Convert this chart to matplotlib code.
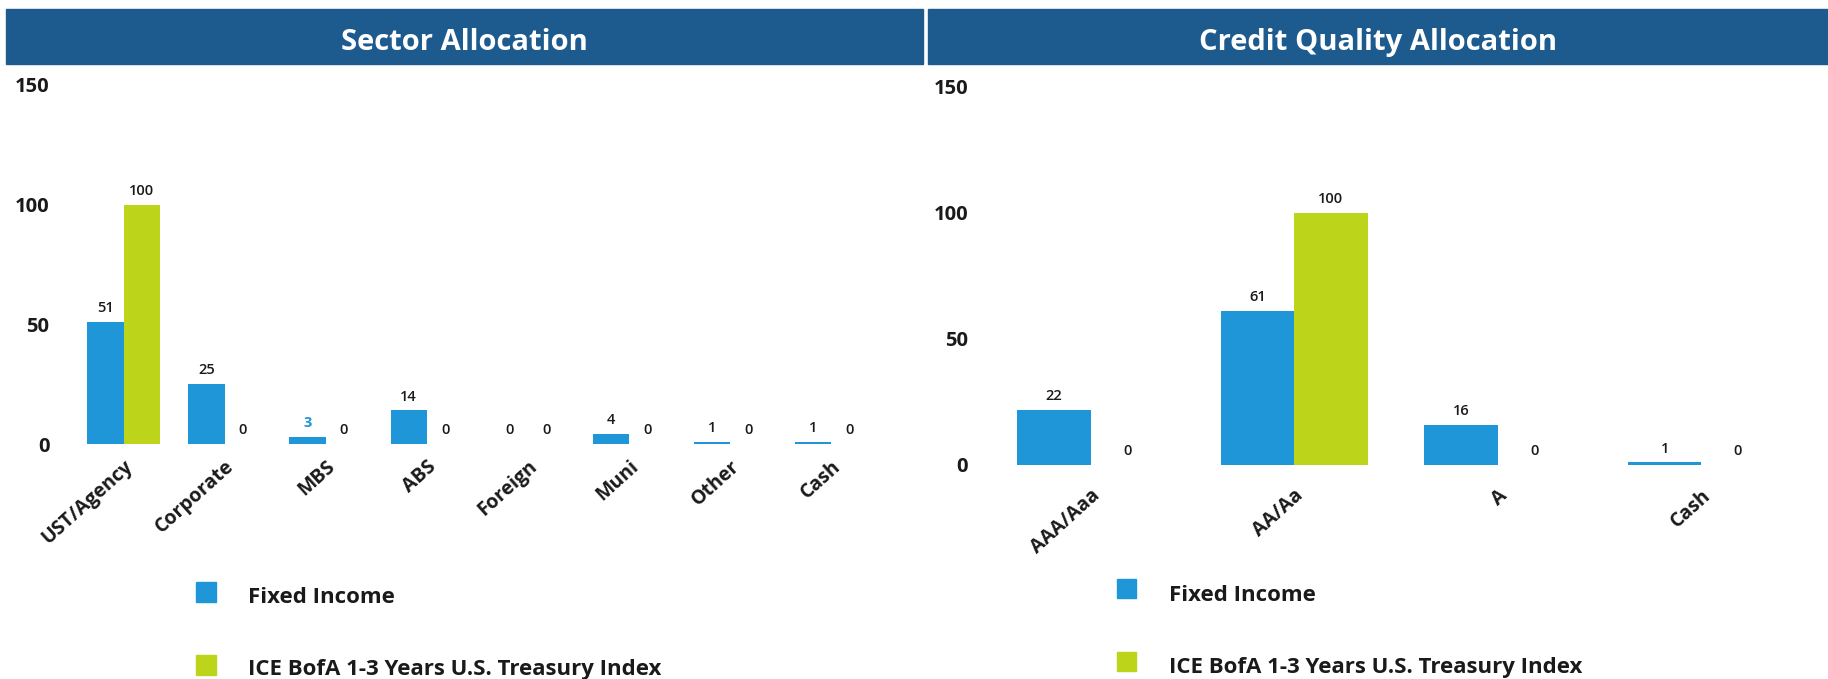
import matplotlib
matplotlib.use("Agg")
import matplotlib.pyplot as plt
from matplotlib.patches import Rectangle
import numpy as np

# Sector allocation data
sector_cats = ["UST/Agency", "Corporate", "MBS", "ABS", "Foreign", "Muni", "Other", "Cash"]
sector_fund = [51, 25, 3, 14, 0, 4, 1, 1]
sector_index = [100, 0, 0, 0, 0, 0, 0, 0]

# Credit quality allocation data
quality_cats = ["AAA/Aaa", "AA/Aa", "A", "Cash"]
quality_fund = [22, 61, 16, 1]
quality_index = [0, 100, 0, 0]

y_ticks = [0, 50, 100, 150]
series_names = ["Fixed Income", "ICE BofA 1-3 Years U.S. Treasury Index"]

BLUE = "#1e96d8"
GREEN = "#bcd41a"
HEADER = "#1d5b8e"
TEXT = "#1a1a1a"
FONT = ["Open Sans", "DejaVu Sans"]

plt.rcParams["font.family"] = FONT

W, H = 1828, 679
fig = plt.figure(figsize=(W / 100, H / 100), dpi=100)


def px_box(x0, y0, x1, y1):
    """Convert a pixel box (top-left origin) into figure fractions."""
    return [x0 / W, 1 - y1 / H, (x1 - x0) / W, (y1 - y0) / H]


def header(x0, x1, title):
    fig.patches.append(Rectangle((x0 / W, 1 - 64 / H), (x1 - x0) / W, 55 / H,
                                 transform=fig.transFigure, color=HEADER, zorder=0))
    fig.text((x0 + x1) / 2 / W, 1 - 50 / H, title, color="white", fontsize=21,
             fontweight="bold", ha="center", va="baseline")


def panel(box, cats, fund, index, ytick_pad, xtick_pad, label_blue=()):
    ax = fig.add_axes(box)
    x = np.arange(len(cats))
    w = 0.36
    b1 = ax.bar(x - w / 2, fund, width=w, color=BLUE, zorder=2)
    b2 = ax.bar(x + w / 2, index, width=w, color=GREEN, zorder=2)
    for bars, vals in ((b1, fund), (b2, index)):
        for i, (rect, v) in enumerate(zip(bars, vals)):
            col = BLUE if (bars is b1 and i in label_blue) else TEXT
            ax.annotate(f"{v}", (rect.get_x() + rect.get_width() / 2, v),
                        xytext=(0, 5), textcoords="offset points",
                        ha="center", va="bottom", fontsize=10.5, color=col,
                        fontweight="bold" if col == BLUE else "semibold")
    ax.set_xlim(-0.5, len(cats) - 0.5)
    ax.set_ylim(0, 150)
    ax.set_yticks(y_ticks)
    ax.set_yticklabels([str(t) for t in y_ticks], fontsize=14.5, fontweight="bold", color=TEXT)
    ax.set_xticks(x)
    ax.set_xticklabels(cats, rotation=42, ha="right", rotation_mode="anchor",
                       fontsize=14, fontweight="bold", color=TEXT)
    ax.tick_params(axis="y", length=0, pad=ytick_pad)
    ax.tick_params(axis="x", length=0, pad=xtick_pad)
    for s in ax.spines.values():
        s.set_visible(False)
    ax.patch.set_alpha(0)
    return ax


def legend(x_sq, sq_tops, baselines, sq):
    for top, base, name, col in zip(sq_tops, baselines, series_names, (BLUE, GREEN)):
        fig.patches.append(Rectangle((x_sq / W, 1 - (top + sq) / H), sq / W, sq / H,
                                     transform=fig.transFigure, color=col))
        fig.text((x_sq + 52) / W, 1 - base / H, name, fontsize=16, fontweight="bold",
                 color=TEXT, ha="left", va="baseline")


header(6, 923, "Sector Allocation")
header(928, 1828, "Credit Quality Allocation")

panel(px_box(73, 85, 882, 444), sector_cats, sector_fund, sector_index,
      ytick_pad=17, xtick_pad=9, label_blue=(2,))
panel(px_box(989, 87, 1803, 465), quality_cats, quality_fund, quality_index,
      ytick_pad=15, xtick_pad=15)

legend(196, (582, 655), (603, 675), 20)
legend(1117, (579, 652), (601, 673), 19)

fig.savefig("out.png", dpi=100, facecolor="white")
